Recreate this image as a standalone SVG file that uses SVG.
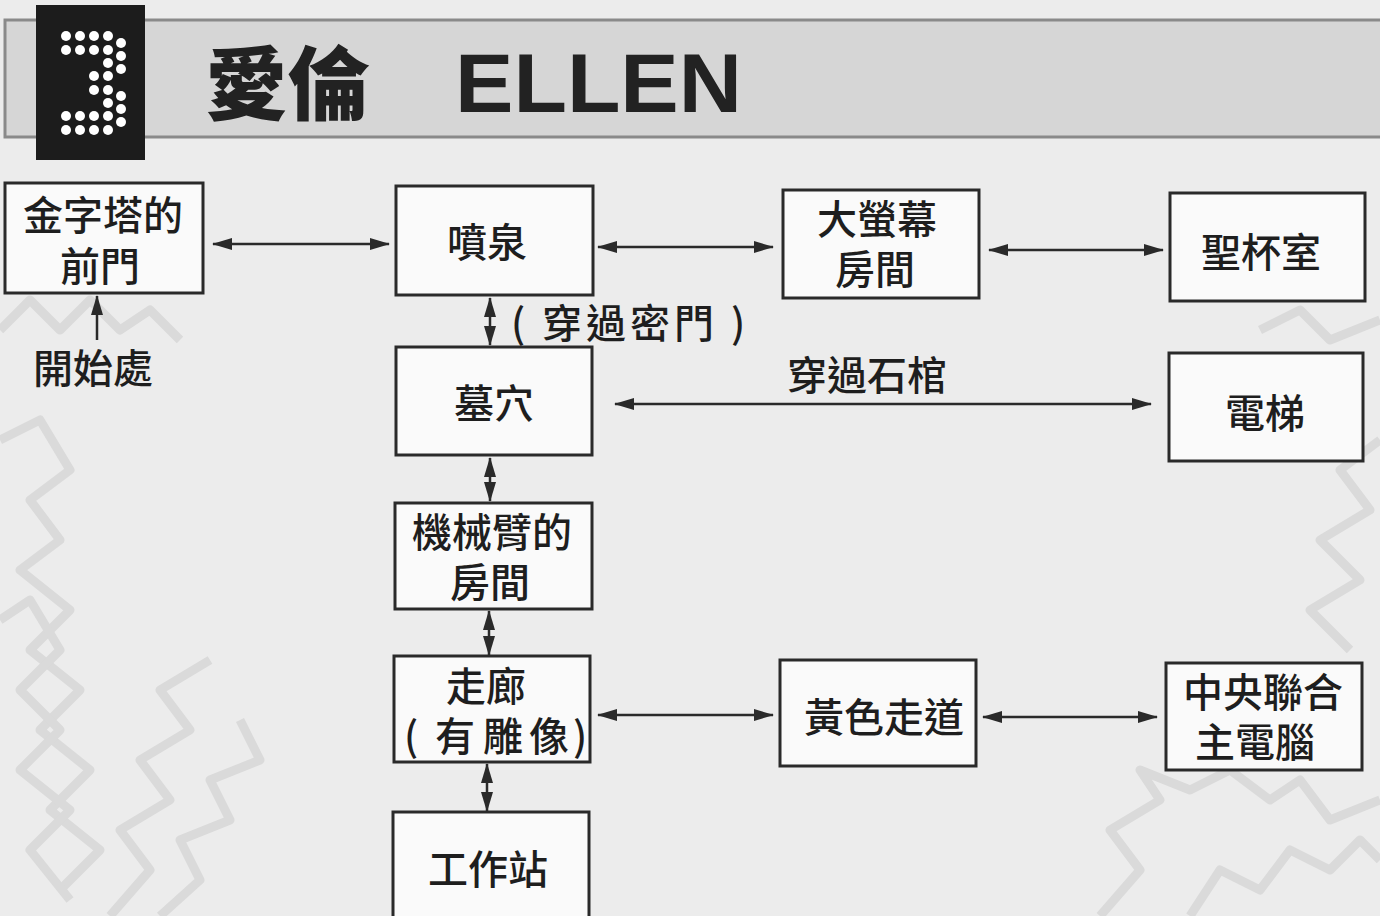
<svg xmlns="http://www.w3.org/2000/svg" width="1380" height="916" viewBox="0 0 1380 916">
<defs>
<marker id="ah" viewBox="0 0 20 12" refX="19" refY="6" markerWidth="20" markerHeight="12" markerUnits="userSpaceOnUse" orient="auto-start-reverse">
<path d="M0,0 L20,6 L0,12 Z" fill="#2a2a2a"/>
</marker>
<style>
.bg{fill:#ececec}
.maze{fill:none;stroke:#dadada;stroke-width:9;stroke-linejoin:round}
.box{fill:#fafafa;stroke:#2a2a2a;stroke-width:3}
.t{font-family:"Noto Sans CJK TC","Noto Sans CJK SC",sans-serif;font-size:40px;font-weight:500;fill:#1e1e1e;text-anchor:middle}
.c{stroke:#2a2a2a;stroke-width:2.5;fill:none;marker-end:url(#ah)}
.cc{stroke:#2a2a2a;stroke-width:2.5;fill:none;marker-start:url(#ah);marker-end:url(#ah)}
.dot{fill:#ffffff}
</style>
</defs>
<rect class="bg" x="0" y="0" width="1380" height="916"/>
<g id="background-maze">
<path class="maze" d="M0,440 L40,420 L70,470 L30,500 L60,540 L20,570 L70,610 L30,650 L80,690 L40,730 L90,770 L50,810 L100,850 L60,890"/>
<path class="maze" d="M0,620 L30,600 L60,650 L20,690 L60,730 L20,770 L70,810 L30,850 L70,900"/>
<path class="maze" d="M110,916 L150,870 L120,830 L170,800 L140,760 L190,730 L160,690 L210,660"/>
<path class="maze" d="M160,916 L200,880 L180,840 L230,820 L210,780 L260,760 L240,720"/>
<path class="maze" d="M1380,440 L1340,470 L1370,510 L1320,540 L1360,580 L1310,610 L1350,650"/>
<path class="maze" d="M1100,916 L1140,870 L1110,830 L1160,800 L1140,770 L1190,790 L1230,770 L1270,800 L1300,780 L1330,820 L1380,800"/>
<path class="maze" d="M1190,916 L1220,870 L1260,890 L1290,850 L1330,870 L1360,840 L1380,860"/>
<path class="maze" d="M1260,330 L1300,310 L1330,340 L1380,320"/>
<path class="maze" d="M0,330 L30,300 L60,330 L90,300 L120,330 L150,310 L180,340"/>
</g>
<g id="header">
<rect x="5" y="20" width="1385" height="117" fill="#d6d6d6" stroke="#8a8a8a" stroke-width="3"/>
<rect x="36" y="5" width="109" height="155" fill="#1c1c1c"/>
<g id="digit-3">
<circle class="dot" cx="66" cy="36" r="5"/><circle class="dot" cx="80" cy="36" r="5"/><circle class="dot" cx="94" cy="36" r="5"/><circle class="dot" cx="108" cy="36" r="5"/>
<circle class="dot" cx="66" cy="50" r="5"/><circle class="dot" cx="80" cy="50" r="5"/><circle class="dot" cx="94" cy="50" r="5"/><circle class="dot" cx="108" cy="50" r="5"/><circle class="dot" cx="121" cy="43" r="5"/><circle class="dot" cx="121" cy="56" r="5"/>
<circle class="dot" cx="108" cy="63" r="5"/><circle class="dot" cx="121" cy="69" r="5"/>
<circle class="dot" cx="94" cy="76" r="5"/><circle class="dot" cx="108" cy="76" r="5"/>
<circle class="dot" cx="94" cy="90" r="5"/><circle class="dot" cx="108" cy="90" r="5"/>
<circle class="dot" cx="121" cy="96" r="5"/><circle class="dot" cx="108" cy="103" r="5"/><circle class="dot" cx="121" cy="109" r="5"/>
<circle class="dot" cx="66" cy="116" r="5"/><circle class="dot" cx="80" cy="116" r="5"/><circle class="dot" cx="94" cy="116" r="5"/><circle class="dot" cx="108" cy="116" r="5"/><circle class="dot" cx="121" cy="122" r="5"/>
<circle class="dot" cx="66" cy="130" r="5"/><circle class="dot" cx="80" cy="130" r="5"/><circle class="dot" cx="94" cy="130" r="5"/><circle class="dot" cx="108" cy="130" r="5"/>
</g>
<text x="205" y="113" font-family="'Noto Sans CJK TC','Noto Sans CJK SC',sans-serif" font-size="80" font-weight="900" fill="#222" textLength="165" lengthAdjust="spacingAndGlyphs">愛倫</text>
<text x="455" y="112" font-family="'Liberation Sans',Arial,sans-serif" font-size="84" font-weight="bold" fill="#222" textLength="287" lengthAdjust="spacingAndGlyphs">ELLEN</text>
</g>
<g id="connectors">
<line class="cc" x1="213" y1="244" x2="389" y2="244"/>
<line class="cc" x1="598" y1="247" x2="773" y2="247"/>
<line class="cc" x1="989" y1="250" x2="1163" y2="250"/>
<line class="cc" x1="490" y1="298" x2="490" y2="345"/>
<line class="cc" x1="615" y1="404" x2="1151" y2="404"/>
<line class="cc" x1="490" y1="458" x2="490" y2="501"/>
<line class="cc" x1="489" y1="611" x2="489" y2="655"/>
<line class="cc" x1="487" y1="764" x2="487" y2="811"/>
<line class="cc" x1="598" y1="715" x2="773" y2="715"/>
<line class="cc" x1="983" y1="717" x2="1157" y2="717"/>
<line class="c" x1="97" y1="340" x2="97" y2="296"/>
<text class="t" x="518 562 606 650 694 738" y="338">(穿過密門)</text>
<text class="t" x="867" y="390">穿過石棺</text>
<text class="t" x="93" y="383">開始處</text>
</g>
<g id="n-pyramid-gate"><rect class="box" x="5" y="183" width="198" height="110"/><text class="t"><tspan x="103" y="230">金字塔的</tspan><tspan x="100" y="281">前門</tspan></text></g>
<g id="n-fountain"><rect class="box" x="396" y="186" width="197" height="109"/><text class="t" x="487" y="257">噴泉</text></g>
<g id="n-bigscreen"><rect class="box" x="783" y="190" width="196" height="108"/><text class="t"><tspan x="877" y="234">大螢幕</tspan><tspan x="875" y="284">房間</tspan></text></g>
<g id="n-grail"><rect class="box" x="1170" y="193" width="195" height="108"/><text class="t" x="1261" y="267">聖杯室</text></g>
<g id="n-tomb"><rect class="box" x="396" y="347" width="196" height="108"/><text class="t" x="494" y="418">墓穴</text></g>
<g id="n-elevator"><rect class="box" x="1169" y="353" width="194" height="108"/><text class="t" x="1265" y="428">電梯</text></g>
<g id="n-robotarm"><rect class="box" x="395" y="503" width="197" height="106"/><text class="t"><tspan x="492" y="547">機械臂的</tspan><tspan x="490" y="597">房間</tspan></text></g>
<g id="n-corridor"><rect class="box" x="394" y="656" width="196" height="106"/><text class="t"><tspan x="486" y="701">走廊</tspan><tspan x="411 455 503 549 580" y="751">(有雕像)</tspan></text></g>
<g id="n-yellow"><rect class="box" x="780" y="660" width="196" height="106"/><text class="t" x="884" y="732">黃色走道</text></g>
<g id="n-central"><rect class="box" x="1166" y="663" width="196" height="107"/><text class="t"><tspan x="1263" y="707">中央聯合</tspan><tspan x="1255" y="757">主電腦</tspan></text></g>
<g id="n-workstation"><rect class="box" x="393" y="812" width="196" height="110"/><text class="t" x="488" y="884">工作站</text></g>
</svg>
